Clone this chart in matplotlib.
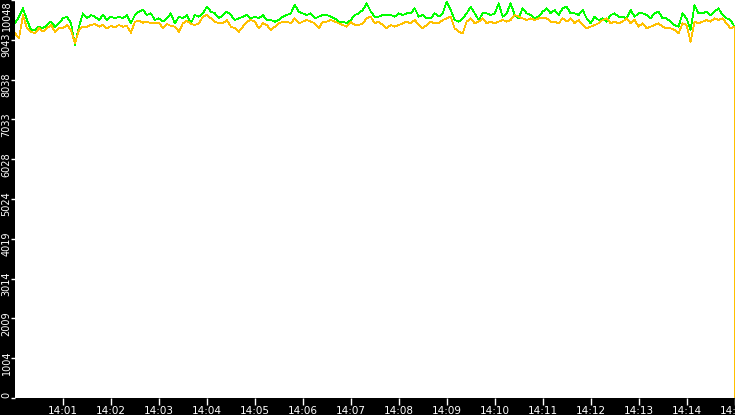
import matplotlib
matplotlib.use("Agg")
import matplotlib.pyplot as plt
import matplotlib.dates as mdates
import matplotlib.transforms as mtransforms
import pandas as pd

# ---- data (5-second samples, 14:00:00 .. 14:15:00, then final drop at 14:15:00) ----
start_time = "2024-01-01 14:00:00"
sample_seconds = 5

green_values = [
    9459, 9627, 9838, 9543, 9291, 9291, 9375, 9333, 9417, 9501, 9375, 9459, 9585, 9627, 9459,
    8912, 9375, 9711, 9585, 9669, 9627, 9543, 9669, 9543, 9627, 9585, 9627, 9585, 9669, 9459,
    9669, 9753, 9796, 9669, 9711, 9543, 9585, 9501, 9585, 9711, 9459, 9627, 9585, 9669, 9459,
    9669, 9627, 9711, 9880, 9753, 9711, 9585, 9669, 9753, 9669, 9543, 9585, 9627, 9669, 9585,
    9627, 9585, 9669, 9543, 9543, 9501, 9543, 9627, 9669, 9711, 9922, 9753, 9711, 9669, 9711,
    9585, 9627, 9669, 9669, 9627, 9585, 9501, 9501, 9459, 9543, 9669, 9711, 9796, 9964, 9753,
    9627, 9627, 9669, 9669, 9669, 9627, 9711, 9669, 9711, 9711, 9838, 9627, 9669, 9585, 9585,
    9711, 9627, 9711, 10006, 9796, 9543, 9501, 9585, 9711, 9880, 9711, 9543, 9711, 9711, 9669,
    9711, 9964, 9627, 9711, 9964, 9669, 9585, 9838, 9711, 9669, 9585, 9627, 9753, 9838, 9711,
    9796, 9669, 9838, 9880, 9711, 9711, 9669, 9796, 9585, 9459, 9627, 9543, 9585, 9501, 9669,
    9711, 9627, 9627, 9585, 9796, 9627, 9711, 9711, 9669, 9585, 9711, 9753, 9585, 9585, 9501,
    9417, 9375, 9711, 9585, 9291, 9922, 9711, 9711, 9753, 9669, 9753, 9838, 9669, 9585, 9543,
    9375,
]
green_final = 4700

orange_values = [
    9206, 9080, 9669, 9333, 9248, 9206, 9333, 9248, 9333, 9417, 9248, 9333, 9333, 9417, 9291,
    8954, 9291, 9375, 9375, 9417, 9442, 9375, 9417, 9333, 9391, 9358, 9417, 9375, 9391, 9223,
    9501, 9526, 9476, 9501, 9459, 9459, 9476, 9333, 9442, 9391, 9375, 9248, 9459, 9526, 9442,
    9417, 9459, 9627, 9669, 9585, 9501, 9459, 9459, 9543, 9375, 9333, 9248, 9375, 9501, 9543,
    9501, 9333, 9459, 9417, 9291, 9375, 9459, 9501, 9501, 9459, 9585, 9459, 9501, 9543, 9501,
    9459, 9333, 9501, 9501, 9543, 9501, 9459, 9417, 9375, 9501, 9417, 9417, 9459, 9585, 9627,
    9459, 9501, 9417, 9333, 9417, 9375, 9417, 9459, 9501, 9459, 9543, 9417, 9333, 9417, 9501,
    9459, 9459, 9543, 9585, 9627, 9333, 9248, 9206, 9501, 9585, 9459, 9501, 9585, 9459, 9501,
    9459, 9501, 9543, 9501, 9543, 9669, 9627, 9585, 9543, 9585, 9543, 9585, 9585, 9585, 9501,
    9501, 9459, 9585, 9501, 9585, 9459, 9543, 9417, 9333, 9375, 9417, 9459, 9543, 9585, 9459,
    9501, 9459, 9501, 9585, 9459, 9543, 9375, 9459, 9333, 9375, 9417, 9459, 9375, 9333, 9333,
    9291, 9206, 9459, 9417, 8996, 9501, 9459, 9501, 9543, 9501, 9585, 9543, 9585, 9459, 9333,
    9375,
]
orange_final = 0

y_max = 10048
y_tick_count = 11
x_tick_minutes = list(range(1, 16))

# ---- figure ----
W, H = 735, 415
fig = plt.figure(figsize=(W / 100, H / 100), dpi=100, facecolor="black")
ax = fig.add_axes([15 / W, 17 / H, 720 / W, 398 / H])
ax.set_facecolor("white")

times = list(pd.date_range(start_time, periods=len(green_values), freq=f"{sample_seconds}s"))
times_all = times + [times[-1]]
ax.plot(times_all, green_values + [green_final], color="#00ff00", lw=0.55,
        antialiased=False, zorder=2)
ax.plot(times_all, orange_values + [orange_final], color="#ffc000", lw=0.55,
        antialiased=False, zorder=3)

ax.set_xlim(times[0], times[-1] + pd.Timedelta(seconds=0.6))
ax.set_ylim(0, y_max)

for s in ax.spines.values():
    s.set_visible(False)

# y ticks
yticks = [y_max * i / (y_tick_count - 1) for i in range(y_tick_count)]
ax.set_yticks(yticks)
ax.set_yticklabels([str(int(v)) for v in yticks])
ax.tick_params(axis="y", colors="white", length=3, width=1, pad=-0.6, labelsize=7,
               labelrotation=90, direction="out")
ylabels = ax.get_yticklabels()
offset = mtransforms.ScaledTranslation(0, -5 / 100, fig.dpi_scale_trans)
for i, lab in enumerate(ylabels):
    lab.set_color("white")
    if i == 0:
        lab.set_va("bottom")
    elif i == len(ylabels) - 1:
        lab.set_va("top")
    else:
        lab.set_va("center")
        lab.set_transform(lab.get_transform() + offset)

# x ticks
ax.xaxis.set_major_locator(mdates.MinuteLocator(byminute=x_tick_minutes))
ax.xaxis.set_major_formatter(mdates.DateFormatter("%H:%M"))
ax.tick_params(axis="x", colors="white", length=5, width=1, pad=0.5, labelsize=7.5,
               direction="out")
for lab in ax.get_xticklabels():
    lab.set_color("white")

fig.savefig("out.png", dpi=100, facecolor="black")
